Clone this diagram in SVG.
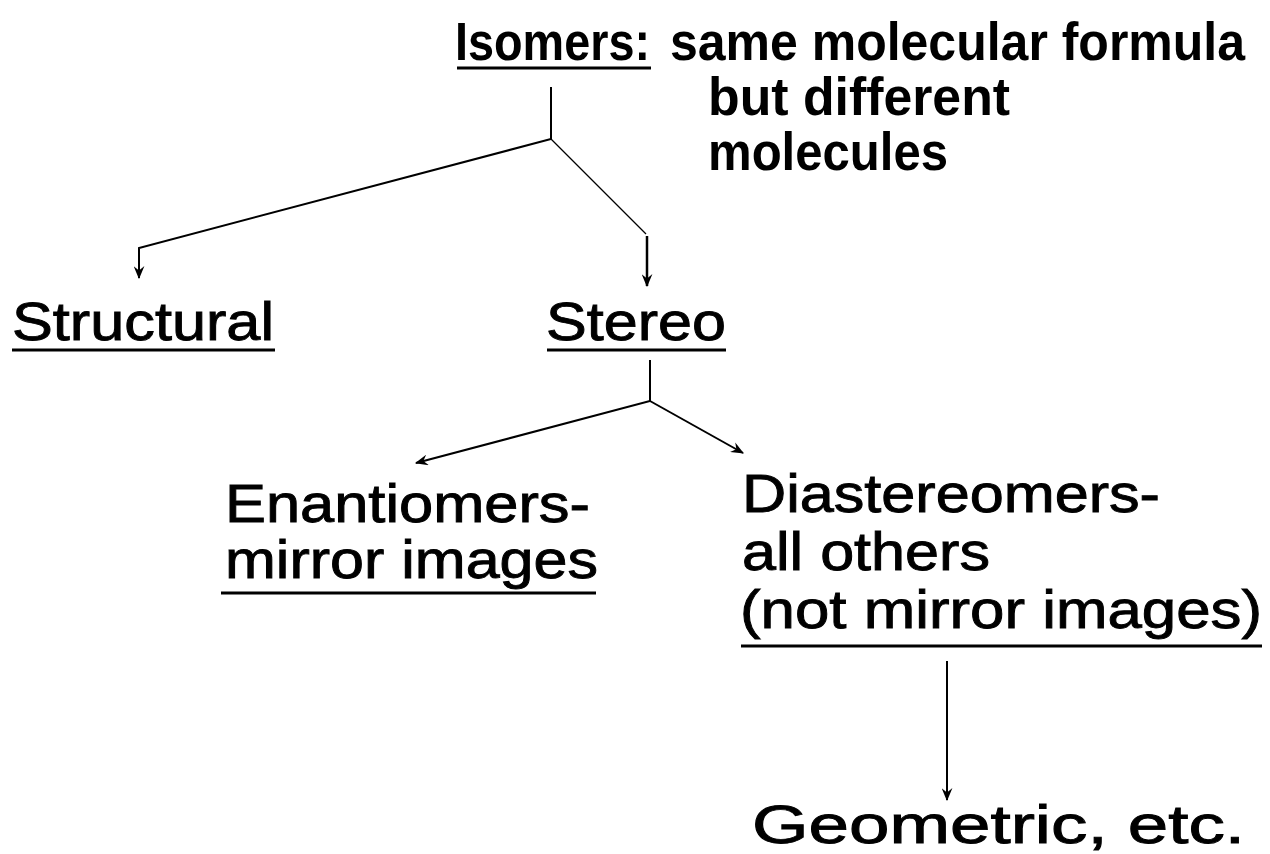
<svg xmlns="http://www.w3.org/2000/svg" width="1270" height="854" viewBox="0 0 1270 854">
<defs>
<style>
.t{font-family:"Liberation Sans",Arial,sans-serif;font-size:53px;fill:#000;stroke:#000;stroke-width:0.9}
.h{font-family:"Liberation Sans",Arial,sans-serif;font-size:49px;font-weight:bold;fill:#000}
.u{stroke:#000;stroke-width:3;fill:none}
.c{stroke:#000;stroke-width:2;fill:none}
</style>
<marker id="ah" viewBox="0 0 12 10" refX="11" refY="5" markerWidth="13" markerHeight="11" markerUnits="userSpaceOnUse" orient="auto">
<path d="M0,0 L12,5 L0,10 L4,5 Z" fill="#000"/>
</marker>
</defs>
<rect width="1270" height="854" fill="#fff"/>
<g id="connectors">
<polyline class="c" points="551,87 551,139 139,248 139,278" marker-end="url(#ah)"/>
<line x1="551" y1="139" x2="646" y2="234" stroke="#000" stroke-width="1.2"/>
<line x1="647" y1="236" x2="647" y2="286" stroke="#000" stroke-width="2.5" marker-end="url(#ah)"/>
<polyline class="c" points="650,360 650,401 416,463" marker-end="url(#ah)"/>
<line class="c" x1="650" y1="401" x2="743" y2="453" marker-end="url(#ah)"/>
<line class="c" x1="947" y1="661" x2="947" y2="800" marker-end="url(#ah)"/>
</g>
<g id="isomers">
<text class="h" transform="translate(455,60) scale(1,1.1)" textLength="195" lengthAdjust="spacingAndGlyphs">Isomers:</text>
<line class="u" x1="457" y1="68" x2="651" y2="68"/>
<text class="h" transform="translate(670,60) scale(1,1.1)" textLength="575" lengthAdjust="spacingAndGlyphs">same molecular formula</text>
<text class="h" transform="translate(708,115) scale(1,1.1)" textLength="302" lengthAdjust="spacingAndGlyphs">but different</text>
<text class="h" transform="translate(708,170) scale(1,1.1)" textLength="240" lengthAdjust="spacingAndGlyphs">molecules</text>
</g>
<g id="structural">
<text class="t" x="12" y="340" textLength="262" lengthAdjust="spacingAndGlyphs">Structural</text>
<line class="u" x1="12" y1="350" x2="275" y2="350"/>
</g>
<g id="stereo">
<text class="t" x="546" y="340" textLength="180" lengthAdjust="spacingAndGlyphs">Stereo</text>
<line class="u" x1="547" y1="350" x2="726" y2="350"/>
</g>
<g id="enantiomers">
<text class="t" x="225" y="522" textLength="365" lengthAdjust="spacingAndGlyphs">Enantiomers-</text>
<text class="t" x="225" y="578" textLength="373" lengthAdjust="spacingAndGlyphs">mirror images</text>
<line class="u" x1="221" y1="593" x2="596" y2="593"/>
</g>
<g id="diastereomers">
<text class="t" x="742" y="512" textLength="418" lengthAdjust="spacingAndGlyphs">Diastereomers-</text>
<text class="t" x="742" y="570" textLength="248" lengthAdjust="spacingAndGlyphs">all others</text>
<text class="t" x="740" y="628" textLength="522" lengthAdjust="spacingAndGlyphs">(not mirror images)</text>
<line class="u" x1="741" y1="646" x2="1262" y2="646"/>
</g>
<g id="geometric">
<text class="t" x="752" y="843" textLength="493" lengthAdjust="spacingAndGlyphs">Geometric, etc.</text>
</g>
</svg>
